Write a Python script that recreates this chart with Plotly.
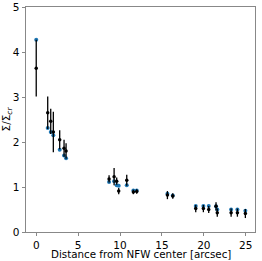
import plotly.graph_objects as go

# Data
r_arcsec = [0.0, 1.37, 1.73, 2.04, 2.8, 3.32, 3.56,
            8.69, 9.29, 9.60, 9.84, 10.8, 11.59, 11.99,
            15.65, 16.29, 19.03, 19.94, 20.58, 21.45, 21.6,
            23.25, 24.0, 24.95]
sigma_obs = [3.64, 2.65, 2.46, 2.22, 2.05, 1.86, 1.80,
             1.18, 1.23, 1.13, 0.91, 1.15, 0.89, 0.90,
             0.82, 0.80, 0.52, 0.52, 0.50, 0.57, 0.43,
             0.43, 0.43, 0.41]
sigma_err = [0.63, 0.36, 0.28, 0.45, 0.21, 0.19, 0.17,
             0.08, 0.19, 0.08, 0.07, 0.12, 0.05, 0.05,
             0.09, 0.06, 0.08, 0.08, 0.08, 0.09, 0.09,
             0.09, 0.09, 0.10]
sigma_model = [4.27, 2.31, 2.22, 2.15, 1.83, 1.70, 1.64,
               1.11, 1.13, 1.04, 1.03, 1.04, 0.92, 0.92,
               0.85, 0.81, 0.58, 0.58, 0.58, 0.57, 0.50,
               0.50, 0.50, 0.47]

x_ticks = [0, 5, 10, 15, 20, 25]
y_ticks = [0, 1, 2, 3, 4, 5]
x_title = "Distance from NFW center [arcsec]"

fig = go.Figure()
fig.add_trace(go.Scatter(
    x=r_arcsec, y=sigma_model, mode="markers",
    marker=dict(color="#1f77b4", size=4), showlegend=False))
fig.add_trace(go.Scatter(
    x=r_arcsec, y=sigma_obs, mode="markers",
    marker=dict(color="black", size=3.5),
    error_y=dict(type="data", array=sigma_err, color="black", thickness=1.3, width=0),
    showlegend=False))

font = dict(family="DejaVu Sans", size=10.5, color="black")
title_font = dict(family="DejaVu Sans", size=10.3, color="black")
fig.update_layout(
    width=262, height=261,
    margin=dict(l=26, r=7, t=7, b=29, autoexpand=False),
    plot_bgcolor="white", paper_bgcolor="white",
    font=font,
    xaxis=dict(range=[-1.22, 26.1], tickvals=x_ticks, ticks="outside", ticklen=3,
               tickcolor="#888", showgrid=False, zeroline=False, showline=True,
               linecolor="#888", linewidth=1, mirror=True, automargin=False),
    yaxis=dict(range=[0, 5], tickvals=y_ticks, ticks="outside", ticklen=3.5,
               tickcolor="#888", showgrid=False, zeroline=False, showline=True,
               linecolor="#888", linewidth=1, mirror=True, automargin=False,
               title=dict(text="Σ/Σ<sub><i>cr</i></sub>", font=font, standoff=4)),
    annotations=[dict(text=x_title, xref="paper", yref="paper", x=0.5, y=0,
                      xanchor="center", yanchor="top", yshift=-15, showarrow=False,
                      borderpad=0, font=title_font)],
)
fig.write_html("out.html", config={"displayModeBar": False},
               post_script="document.body.style.margin='0';document.body.style.overflow='hidden';")
